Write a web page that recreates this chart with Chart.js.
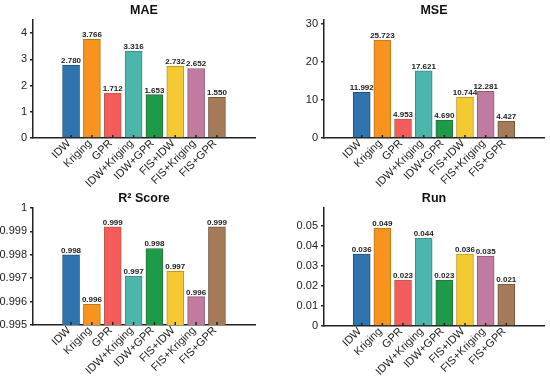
<!DOCTYPE html>
<html lang="en">
<head>
  <meta charset="UTF-8">
  <title>Interpolation method comparison</title>
  <script src="https://cdn.jsdelivr.net/npm/chart.js"></script>
  <style>
    body { margin: 0; background: #fff; }
    .panel { position: absolute; }
  </style>
</head>
<body>
  <canvas id="maeChart" class="panel" width="275" height="188" style="left:0;top:0"></canvas>
  <canvas id="mseChart" class="panel" width="275" height="188" style="left:275px;top:0"></canvas>
  <canvas id="r2Chart" class="panel" width="275" height="189" style="left:0;top:188px"></canvas>
  <canvas id="runChart" class="panel" width="275" height="189" style="left:275px;top:188px"></canvas>

  <script>
    const methods = ["IDW", "Kriging", "GPR", "IDW+Kriging", "IDW+GPR", "FIS+IDW", "FIS+Kriging", "FIS+GPR"];

    const maeValues = [2.780, 3.766, 1.712, 3.316, 1.653, 2.732, 2.652, 1.550];
    const mseValues = [11.992, 25.723, 4.953, 17.621, 4.690, 10.744, 12.281, 4.427];
    const r2Values = [0.99800, 0.99588, 0.99919, 0.99709, 0.99827, 0.99729, 0.99621, 0.99919];
    const runValues = [0.036, 0.049, 0.023, 0.044, 0.023, 0.036, 0.035, 0.021];

    const maeTicks = [0, 1, 2, 3, 4];
    const mseTicks = [0, 10, 20, 30];
    const r2Ticks = [0.995, 0.996, 0.997, 0.998, 0.999, 1];
    const runTicks = [0, 0.01, 0.02, 0.03, 0.04, 0.05];

    const barColors = ["#2e75b0", "#f7931e", "#f45b5b", "#4db6ac", "#1d9b48", "#f5c932", "#c27ba0", "#a57a58"];
    const barBorders = ["#24507a", "#b57a18", "#b85a46", "#3a8a86", "#2d6b3a", "#c09a22", "#8e5a78", "#6e5a40"];

    const FONT = "'Liberation Sans', Arial, sans-serif";

    // value labels above each bar
    const barValuesPlugin = {
      id: "barValues",
      afterDatasetsDraw(chart) {
        const { ctx } = chart;
        const ds = chart.data.datasets[0];
        const meta = chart.getDatasetMeta(0);
        ctx.save();
        ctx.font = "bold 8px " + FONT;
        ctx.fillStyle = "#222";
        ctx.textAlign = "center";
        ctx.textBaseline = "alphabetic";
        meta.data.forEach((bar, i) => {
          ctx.fillText(ds.data[i].y.toFixed(3), bar.x, bar.y - 2);
        });
        ctx.restore();
      },
    };

    // small inward tick marks on the x axis
    const innerTicksPlugin = {
      id: "innerTicks",
      afterDraw(chart) {
        const { ctx } = chart;
        const xAxis = chart.scales.x;
        ctx.save();
        ctx.strokeStyle = "#222";
        ctx.lineWidth = 1.5;
        xAxis.ticks.forEach((t) => {
          const x = xAxis.getPixelForValue(t.value);
          ctx.beginPath();
          ctx.moveTo(x, xAxis.top);
          ctx.lineTo(x, xAxis.top - 3);
          ctx.stroke();
        });
        ctx.restore();
      },
    };

    function makePanel(id, title, values, yTicks, yMin, yMax, pad, yWidth, xHeight) {
      const ctx = document.getElementById(id).getContext("2d");
      return new Chart(ctx, {
        type: "bar",
        data: {
          datasets: [{
            data: values.map((v, i) => ({ x: i, y: v })),
            backgroundColor: barColors,
            borderColor: barBorders,
            borderWidth: 1,
            borderSkipped: "bottom",
            barThickness: 17,
          }],
        },
        options: {
          responsive: false,
          animation: false,
          layout: { padding: pad },
          plugins: {
            legend: { display: false },
            tooltip: { enabled: false },
            title: {
              display: true,
              fullSize: false,
              text: title,
              color: "#111",
              font: { family: FONT, size: 12.5, weight: "bold" },
              padding: { top: 3, bottom: 2 },
            },
          },
          scales: {
            x: {
              type: "linear",
              min: -1.16,
              max: 8.16,
              grid: { display: false, drawTicks: false, tickLength: 0 },
              border: { display: true, color: "#222", width: 1.5 },
              afterBuildTicks: (s) => { s.ticks = methods.map((m, i) => ({ value: i })); },
              afterFit: (s) => { s.height = xHeight; },
              ticks: {
                minRotation: 45,
                maxRotation: 45,
                padding: -1,
                labelOffset: -2,
                color: "#222",
                font: { family: FONT, size: 11 },
                callback: (v) => methods[v],
              },
            },
            y: {
              min: yMin,
              max: yMax,
              grid: { drawOnChartArea: false, drawTicks: true, tickLength: 3, color: "#222", lineWidth: 1.5 },
              border: { display: true, color: "#222", width: 1.5 },
              afterBuildTicks: (s) => { s.ticks = yTicks.map((v) => ({ value: v })); },
              afterFit: (s) => { s.width = yWidth; },
              ticks: {
                padding: 3,
                color: "#222",
                font: { family: FONT, size: 11 },
                callback: (v) => String(v),
              },
            },
          },
        },
        plugins: [barValuesPlugin, innerTicksPlugin],
      });
    }

    makePanel("maeChart", "MAE", maeValues, maeTicks, 0, 4.5, { left: 0, right: 20, top: 0, bottom: 0 }, 33, 50);
    makePanel("mseChart", "MSE", mseValues, mseTicks, 0, 31, { left: 0, right: 6, top: 0, bottom: 0 }, 49, 50);
    makePanel("r2Chart", "R\u00B2 Score", r2Values, r2Ticks, 0.995, 1, { left: 0, right: 20, top: 0, bottom: 0 }, 33, 52);
    makePanel("runChart", "Run", runValues, runTicks, 0, 0.059, { left: 0, right: 6, top: 0, bottom: 0 }, 49, 51);
  </script>
</body>
</html>
